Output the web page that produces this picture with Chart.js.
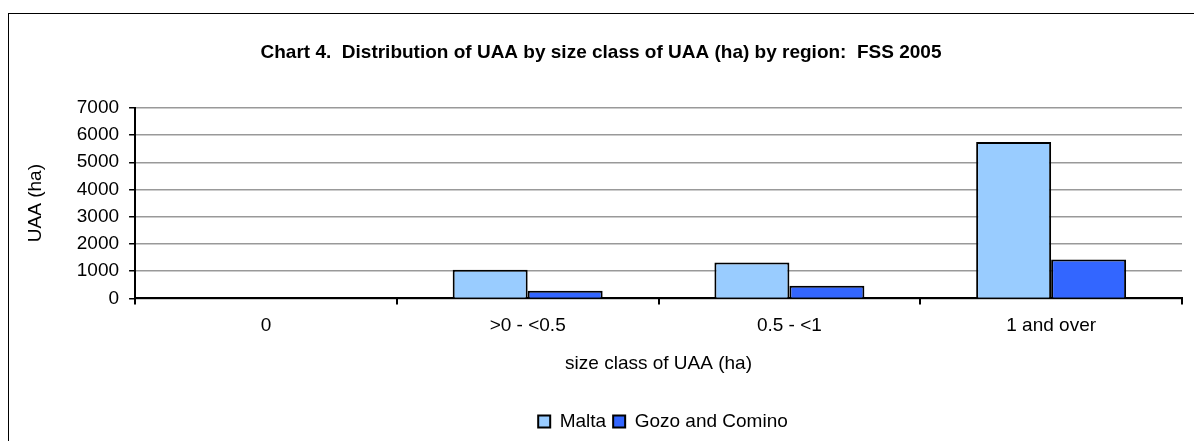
<!DOCTYPE html>
<html>
<head>
<meta charset="utf-8">
<script src="https://cdn.jsdelivr.net/npm/chart.js@4.4.0/dist/chart.umd.min.js"></script>
<style>
    html, body { margin: 0; padding: 0; background: #fff; }
    #wrap { position: relative; width: 1194px; height: 441px; overflow: hidden; }
    #frame { position: absolute; left: 8px; top: 13px; width: 1200px; height: 440px; border: 1.5px solid #000; box-sizing: border-box; }
    canvas { position: absolute; left: 0; top: 0; }
</style>
</head>
<body>
<div id="wrap">
    <div id="frame"></div>
    <canvas id="grafico" width="1194" height="441"></canvas>
</div>
<script>
const categorias = ["0", ">0 - <0.5", "0.5 - <1", "1 and over"];
const malta = [0, 1050, 1320, 5740];
const gozo = [0, 280, 460, 1430];
const ticksY = [0, 1000, 2000, 3000, 4000, 5000, 6000, 7000];

const FONTE = "Arial, 'Liberation Sans', sans-serif";
Chart.defaults.font.family = FONTE;
Chart.defaults.color = "#000";

// a legenda do original fica um pouco à direita do centro
const deslocaLegenda = {
    id: "deslocaLegenda",
    beforeDraw(chart) {
        if (chart.legend) {
            chart.legend.left += 62;
            chart.legend.right += 62;
        }
    }
};

new Chart(document.getElementById("grafico").getContext("2d"), {
    type: "bar",
    data: {
        labels: categorias,
        datasets: [
            { label: "Malta", data: malta, backgroundColor: "#99ccff", borderColor: "#000", borderWidth: 2 },
            { label: "Gozo and Comino", data: gozo, backgroundColor: "#3366ff", borderColor: "#000", borderWidth: 2 }
        ]
    },
    options: {
        responsive: false,
        animation: false,
        layout: { padding: { left: 20, right: 12, top: 0, bottom: 0 } },
        datasets: { bar: { categoryPercentage: 0.573, barPercentage: 1.0 } },
        scales: {
            y: {
                min: 0,
                max: 7000,
                afterBuildTicks: axis => { axis.ticks = ticksY.map(v => ({ value: v })); },
                ticks: { font: { size: 19 }, padding: 10, autoSkip: false, callback: v => String(v) },
                grid: { color: "#999", lineWidth: 1.5, tickColor: "#000", tickLength: 6 },
                border: { color: "#000", width: 2 },
                title: { display: true, text: "UAA (ha)", font: { size: 19 }, padding: { top: 4, bottom: 20 } }
            },
            x: {
                ticks: { font: { size: 19 }, padding: 10, maxRotation: 0, autoSkip: false },
                grid: { drawOnChartArea: false, tickColor: "#000", tickLength: 6, lineWidth: 2 },
                border: { color: "#000", width: 2 },
                title: { display: true, text: "size class of UAA (ha)", font: { size: 19 }, padding: { top: 5, bottom: 30 } }
            }
        },
        plugins: {
            title: {
                display: true,
                text: "Chart 4.  Distribution of UAA by size class of UAA (ha) by region:  FSS 2005",
                font: { size: 19, weight: "bold" },
                padding: { top: 41, bottom: 44 }
            },
            legend: {
                position: "bottom",
                labels: { boxWidth: 12, boxHeight: 12, font: { size: 19 }, padding: 7 }
            },
            tooltip: { enabled: false }
        }
    },
    plugins: [deslocaLegenda]
});
</script>
</body>
</html>
